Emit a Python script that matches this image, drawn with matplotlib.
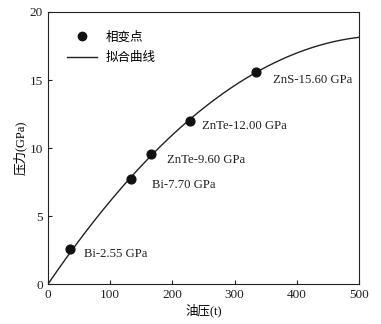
import numpy as np
import matplotlib
matplotlib.use("Agg")
import matplotlib.pyplot as plt
from matplotlib.lines import Line2D

plt.rcParams['font.family'] = ['Liberation Serif', 'Noto Sans CJK SC']

# data
oil_t = [36, 134, 165, 228, 335]
pressure = [2.55, 7.70, 9.60, 12.00, 15.60]
labels = ["Bi-2.55 GPa", "Bi-7.70 GPa", "ZnTe-9.60 GPa", "ZnTe-12.00 GPa", "ZnS-15.60 GPa"]
label_x = [58, 167, 191, 248, 362]
label_y = [2.2, 7.3, 9.1, 11.6, 15.0]

# quadratic fit through origin
X = np.array(oil_t, float)
Y = np.array(pressure, float)
A = np.vstack([X, X**2]).T
coef, *_ = np.linalg.lstsq(A, Y, rcond=None)
xf = np.linspace(0, 500, 300)
yf = coef[0]*xf + coef[1]*xf**2

fig = plt.figure(figsize=(3.81, 3.24), dpi=100)
ax = fig.add_axes([0.126, 0.123, 0.816, 0.840])
ax.plot(xf, yf, color='#222222', lw=1.0)
ax.scatter(oil_t, pressure, s=40, color='#111111', zorder=3)
for lx, ly, t in zip(label_x, label_y, labels):
    ax.text(lx, ly, t, fontsize=9.2, va='center', ha='left', color='#222222')

ax.set_xlim(0, 500)
ax.set_ylim(0, 20)
ax.set_xticks([0, 100, 200, 300, 400, 500])
ax.set_yticks([0, 5, 10, 15, 20])
ax.tick_params(direction='in', labelsize=9.5, length=3, colors='#222222')
ax.set_xlabel('油压(t)', fontsize=9, labelpad=2)
ax.set_ylabel('压力(GPa)', fontsize=9, labelpad=2)
for s in ax.spines.values():
    s.set_color('#222222')

handles = [Line2D([], [], marker='o', ls='', color='#111111', markersize=6),
           Line2D([], [], color='#222222', lw=1.0)]
ax.legend(handles, ['相变点', '拟合曲线'], loc='upper left', frameon=False,
          fontsize=9, bbox_to_anchor=(0.025, 0.97), handlelength=2.4,
          handletextpad=0.7, labelspacing=0.7)

fig.savefig('out.png', dpi=100)
